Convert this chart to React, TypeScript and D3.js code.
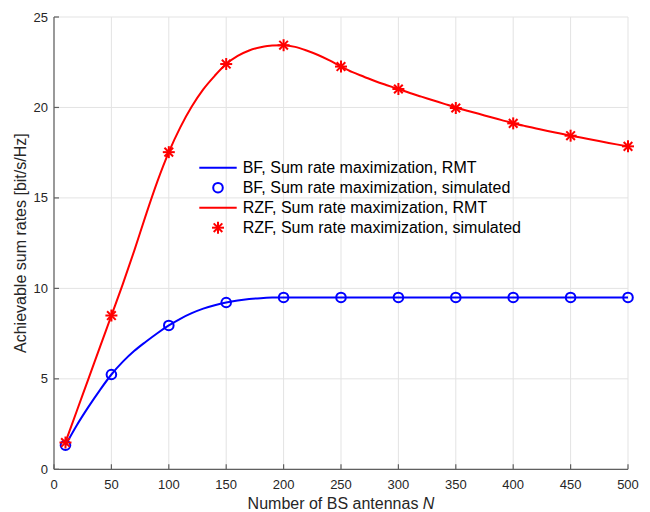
import React from "react";
import * as d3 from "d3";

const rmtN = [10, 20, 30, 40, 50, 60, 70, 80, 90, 100, 110, 120, 130, 140, 150, 160, 170, 180, 190, 200, 210, 220, 230, 240, 250, 260, 270, 280, 290, 300, 310, 320, 330, 340, 350, 360, 370, 380, 390, 400, 410, 420, 430, 440, 450, 460, 470, 480, 490, 500];
const bfRMT = [1.33, 2.45, 3.45, 4.38, 5.24, 5.95, 6.55, 7.05, 7.52, 7.95, 8.32, 8.63, 8.88, 9.07, 9.22, 9.33, 9.41, 9.46, 9.49, 9.5, 9.5, 9.5, 9.5, 9.5, 9.5, 9.5, 9.5, 9.5, 9.5, 9.5, 9.5, 9.5, 9.5, 9.5, 9.5, 9.5, 9.5, 9.5, 9.5, 9.5, 9.5, 9.5, 9.5, 9.5, 9.5, 9.5, 9.5, 9.5, 9.5, 9.5];
const rzfRMT = [1.5, 3.25, 5.0, 6.75, 8.5, 10.25, 12.1, 14.05, 15.9, 17.53, 18.9, 20.05, 21.0, 21.75, 22.4, 22.85, 23.15, 23.33, 23.43, 23.44, 23.35, 23.15, 22.9, 22.6, 22.26, 21.95, 21.7, 21.45, 21.23, 21.02, 20.8, 20.6, 20.4, 20.2, 20.0, 19.82, 19.65, 19.47, 19.3, 19.13, 18.98, 18.84, 18.7, 18.57, 18.44, 18.32, 18.2, 18.08, 17.96, 17.85];

const simN = [10, 50, 100, 150, 200, 250, 300, 350, 400, 450, 500];
const bfSim = [1.33, 5.24, 7.95, 9.22, 9.5, 9.5, 9.5, 9.5, 9.5, 9.5, 9.5];
const rzfSim = [1.48, 8.5, 17.53, 22.4, 23.44, 22.26, 21.02, 19.97, 19.12, 18.44, 17.85];

const xTicks = [0, 50, 100, 150, 200, 250, 300, 350, 400, 450, 500];
const yTicks = [0, 5, 10, 15, 20, 25];

const legendLabels = [
  "BF, Sum rate maximization, RMT",
  "BF, Sum rate maximization, simulated",
  "RZF, Sum rate maximization, RMT",
  "RZF, Sum rate maximization, simulated",
];

const W = 650, H = 512;
const L = 54, R = 628, T = 17, B = 469.3;
const FONT = "'Liberation Sans', Arial, Helvetica, sans-serif";

function Star({ x, y, s = 6, color }: { x: number; y: number; s?: number; color: string }) {
  const d = s * 0.72;
  return (
    <g stroke={color} strokeWidth={2} strokeLinecap="butt">
      <line x1={x - s} y1={y} x2={x + s} y2={y} />
      <line x1={x} y1={y - s} x2={x} y2={y + s} />
      <line x1={x - d} y1={y - d} x2={x + d} y2={y + d} />
      <line x1={x - d} y1={y + d} x2={x + d} y2={y - d} />
    </g>
  );
}

export default function App() {
  const x = d3.scaleLinear().domain([0, 500]).range([L, R]);
  const y = d3.scaleLinear().domain([0, 25]).range([B, T]);
  const line = d3
    .line<[number, number]>()
    .x((d) => x(d[0]))
    .y((d) => y(d[1]))
    .curve(d3.curveMonotoneX);
  const bfPath = line(rmtN.map((n, i) => [n, bfRMT[i]]) as [number, number][]) || "";
  const rzfPath = line(rmtN.map((n, i) => [n, rzfRMT[i]]) as [number, number][]) || "";

  const legX0 = 199.3, legX1 = 236.7, legText = 242.7, legY0 = 167.7, legDy = 20;

  return (
    <svg width={W} height={H} style={{ position: "absolute", left: 0, top: 0, background: "#fff" }} fontFamily={FONT}>
      <rect x={0} y={0} width={W} height={H} fill="#fff" />
      {/* grid */}
      <g stroke="#e3e3e3" strokeWidth={1}>
        {xTicks.map((t) => (
          <line key={"gx" + t} x1={x(t)} x2={x(t)} y1={T} y2={B} />
        ))}
        {yTicks.map((t) => (
          <line key={"gy" + t} x1={L} x2={R} y1={y(t)} y2={y(t)} />
        ))}
      </g>
      {/* axes */}
      <g stroke="#606060" strokeWidth={1.2}>
        <line x1={L} x2={R} y1={B} y2={B} />
        <line x1={L} x2={L} y1={T} y2={B} />
        {xTicks.map((t) => (
          <line key={"tx" + t} x1={x(t)} x2={x(t)} y1={B} y2={B - 5} />
        ))}
        {yTicks.map((t) => (
          <line key={"ty" + t} x1={L} x2={L + 5} y1={y(t)} y2={y(t)} />
        ))}
      </g>
      <g fill="#262626" fontSize={13}>
        {xTicks.map((t) => (
          <text key={"lx" + t} x={x(t)} y={484} textAnchor="middle" dominantBaseline="central">
            {t}
          </text>
        ))}
        {yTicks.map((t) => (
          <text key={"ly" + t} x={L - 6} y={y(t)} textAnchor="end" dominantBaseline="central">
            {t}
          </text>
        ))}
      </g>
      <text x={(L + R) / 2} y={503} textAnchor="middle" dominantBaseline="central" fill="#262626" fontSize={16}>
        Number of BS antennas <tspan fontStyle="italic">N</tspan>
      </text>
      <text
        transform={`translate(20,${(T + B) / 2}) rotate(-90)`}
        textAnchor="middle"
        dominantBaseline="central"
        fill="#262626"
        fontSize={16}
      >
        Achievable sum rates [bit/s/Hz]
      </text>
      {/* curves */}
      <path d={bfPath} fill="none" stroke="#0000ff" strokeWidth={2} />
      <path d={rzfPath} fill="none" stroke="#ff0000" strokeWidth={2} />
      {simN.map((n, i) => (
        <circle key={"c" + n} cx={x(n)} cy={y(bfSim[i])} r={4.8} fill="none" stroke="#0000ff" strokeWidth={2} />
      ))}
      {simN.map((n, i) => (
        <Star key={"s" + n} x={x(n)} y={y(rzfSim[i])} color="#ff0000" />
      ))}
      {/* legend */}
      <g fontSize={16} fill="#000">
        <line x1={legX0} x2={legX1} y1={legY0} y2={legY0} stroke="#0000ff" strokeWidth={2} />
        <circle cx={(legX0 + legX1) / 2} cy={legY0 + legDy} r={4.8} fill="none" stroke="#0000ff" strokeWidth={2} />
        <line x1={legX0} x2={legX1} y1={legY0 + 2 * legDy} y2={legY0 + 2 * legDy} stroke="#ff0000" strokeWidth={2} />
        <Star x={(legX0 + legX1) / 2} y={legY0 + 3 * legDy} color="#ff0000" />
        {legendLabels.map((s, i) => (
          <text key={s} x={legText} y={legY0 + i * legDy} dominantBaseline="central">
            {s}
          </text>
        ))}
      </g>
    </svg>
  );
}
